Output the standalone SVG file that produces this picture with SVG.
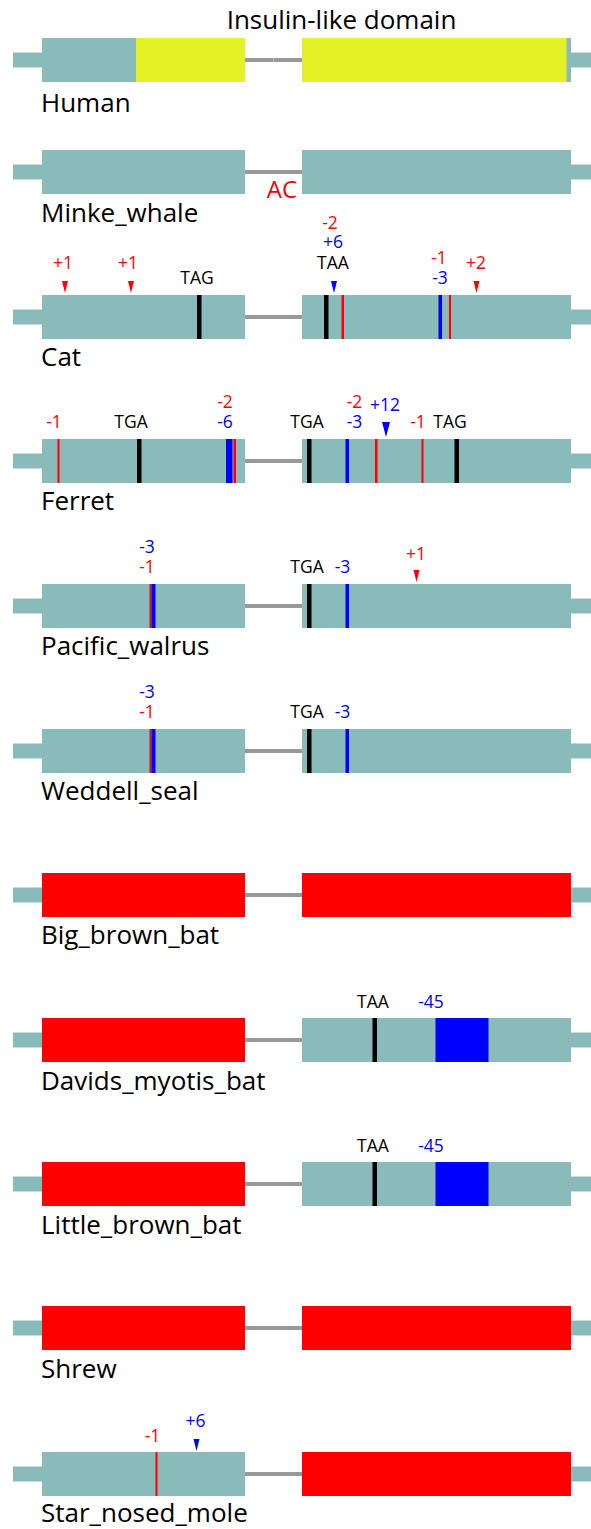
<svg xmlns="http://www.w3.org/2000/svg" width="591" height="1529" viewBox="0 0 591 1529">
  <style>
    .exon { fill: #89BBBB; }
    .dom { fill: #E4F126; }
    .lost { fill: #FF0000; }
    .stop { fill: #000000; }
    .fs { fill: #FF0000; }
    .del { fill: #0000FF; }
    .intron { stroke: #999999; stroke-width: 4; fill: none; }
    .name { font-family: "Open Sans", "Noto Sans", sans-serif; font-size: 26px; fill: #000000; }
    .ann { font-family: "Open Sans", "Noto Sans", sans-serif; font-size: 17.5px; text-anchor: middle; }
    .k { fill: #000000; }
    .r { fill: #FF0000; }
    .b { fill: #0000FF; }
  </style>
  <defs>
    <!-- gene model: UTR stubs on both ends, drawn with the exon box top at y=0 -->
    <g id="stubs">
      <rect class="exon" x="13" y="14.5" width="30" height="15"/>
      <rect class="exon" x="560" y="14.5" width="31" height="15"/>
    </g>
    <path id="tri" d="M-3,-14 L3,-14 L0,-2 Z"/>
    <path id="triBig" d="M-4,-17 L4,-17 L0,-2 Z"/>
  </defs>

  <!-- header -->
  <text class="name" x="341.5" y="29" text-anchor="middle">Insulin-like domain</text>

  <!-- intron connectors -->
  <g id="connectors">
    <line class="intron" x1="245" y1="60" x2="302" y2="60"/>
    <line x1="273.5" y1="58" x2="273.5" y2="62" stroke="#C8C8C8" stroke-width="0.8"/>
    <line class="intron" x1="245" y1="172" x2="302" y2="172"/>
    <line class="intron" x1="245" y1="317" x2="302" y2="317"/>
    <line class="intron" x1="245" y1="461" x2="302" y2="461"/>
    <line class="intron" x1="245" y1="606" x2="302" y2="606"/>
    <line class="intron" x1="245" y1="751" x2="302" y2="751"/>
    <line class="intron" x1="245" y1="895" x2="302" y2="895"/>
    <line class="intron" x1="245" y1="1040" x2="302" y2="1040"/>
    <line class="intron" x1="245" y1="1184" x2="302" y2="1184"/>
    <line class="intron" x1="245" y1="1328" x2="302" y2="1328"/>
    <line class="intron" x1="245" y1="1474" x2="302" y2="1474"/>
  </g>

  <!-- Human -->
  <g id="human" transform="translate(0,38)">
    <use href="#stubs"/>
    <rect class="exon" x="42" y="0" width="94" height="44"/>
    <rect class="dom" x="136" y="0" width="109" height="44"/>
    <rect class="exon" x="302" y="0" width="269" height="44"/>
    <rect class="dom" x="302" y="0" width="264.5" height="44"/>
    <text class="name" x="41" y="74">Human</text>
  </g>

  <!-- Minke whale -->
  <g id="minke_whale" transform="translate(0,150)">
    <use href="#stubs"/>
    <rect class="exon" x="42" y="0" width="203" height="44"/>
    <rect class="exon" x="302" y="0" width="269" height="44"/>
    <text class="name" x="282" y="47.5" text-anchor="middle" style="fill:#FF0000;font-size:24px">AC</text>
    <text class="name" x="41" y="72">Minke_whale</text>
  </g>

  <!-- Cat -->
  <g id="cat" transform="translate(0,295)">
    <use href="#stubs"/>
    <rect class="exon" x="42" y="0" width="203" height="44"/>
    <rect class="exon" x="302" y="0" width="269" height="44"/>
    <rect class="stop" x="197" y="0" width="4.5" height="44"/>
    <rect class="stop" x="324" y="0" width="4.5" height="44"/>
    <rect class="fs" x="341.5" y="0" width="2.5" height="44"/>
    <rect class="del" x="438.5" y="0" width="3.5" height="44"/>
    <rect class="fs" x="449" y="0" width="2" height="44"/>
    <use href="#tri" class="r" x="65" y="0"/>
    <use href="#tri" class="r" x="131" y="0"/>
    <use href="#tri" class="b" x="334" y="0"/>
    <use href="#tri" class="r" x="476.5" y="0"/>
    <text class="ann r" x="63" y="-26">+1</text>
    <text class="ann r" x="128" y="-26">+1</text>
    <text class="ann k" x="197" y="-11">TAG</text>
    <text class="ann r" x="330" y="-66">-2</text>
    <text class="ann b" x="333" y="-47">+6</text>
    <text class="ann k" x="333" y="-26">TAA</text>
    <text class="ann r" x="439" y="-31">-1</text>
    <text class="ann b" x="440" y="-11">-3</text>
    <text class="ann r" x="476" y="-26">+2</text>
    <text class="name" x="41" y="71">Cat</text>
  </g>

  <!-- Ferret -->
  <g id="ferret" transform="translate(0,439)">
    <use href="#stubs"/>
    <rect class="exon" x="42" y="0" width="203" height="44"/>
    <rect class="exon" x="302" y="0" width="269" height="44"/>
    <rect class="fs" x="57.5" y="0" width="2" height="44"/>
    <rect class="stop" x="137" y="0" width="4.5" height="44"/>
    <rect class="del" x="226" y="0" width="6.5" height="44"/>
    <rect class="fs" x="233.5" y="0" width="2.5" height="44"/>
    <rect class="stop" x="307" y="0" width="4.5" height="44"/>
    <rect class="del" x="345.5" y="0" width="3.5" height="44"/>
    <rect class="fs" x="375" y="0" width="2.5" height="44"/>
    <rect class="fs" x="421.5" y="0" width="2" height="44"/>
    <rect class="stop" x="454.5" y="0" width="4.5" height="44"/>
    <use href="#triBig" class="b" x="386" y="0"/>
    <text class="ann r" x="54" y="-11">-1</text>
    <text class="ann k" x="131" y="-11">TGA</text>
    <text class="ann r" x="225" y="-31">-2</text>
    <text class="ann b" x="225" y="-11">-6</text>
    <text class="ann k" x="307" y="-11">TGA</text>
    <text class="ann r" x="354.5" y="-31">-2</text>
    <text class="ann b" x="354.5" y="-11">-3</text>
    <text class="ann b" x="385" y="-28">+12</text>
    <text class="ann r" x="418" y="-11">-1</text>
    <text class="ann k" x="450" y="-11">TAG</text>
    <text class="name" x="41" y="71">Ferret</text>
  </g>

  <!-- Pacific walrus -->
  <g id="pacific_walrus" transform="translate(0,584)">
    <use href="#stubs"/>
    <rect class="exon" x="42" y="0" width="203" height="44"/>
    <rect class="exon" x="302" y="0" width="269" height="44"/>
    <rect class="fs" x="149.5" y="0" width="2" height="44"/>
    <rect class="del" x="151.5" y="0" width="4" height="44"/>
    <rect class="stop" x="307" y="0" width="4.5" height="44"/>
    <rect class="del" x="345.5" y="0" width="3.5" height="44"/>
    <use href="#tri" class="r" x="416.5" y="0"/>
    <text class="ann b" x="147" y="-31">-3</text>
    <text class="ann r" x="147" y="-11">-1</text>
    <text class="ann k" x="307" y="-11">TGA</text>
    <text class="ann b" x="342.5" y="-11">-3</text>
    <text class="ann r" x="416" y="-24">+1</text>
    <text class="name" x="41" y="71">Pacific_walrus</text>
  </g>

  <!-- Weddell seal -->
  <g id="weddell_seal" transform="translate(0,729)">
    <use href="#stubs"/>
    <rect class="exon" x="42" y="0" width="203" height="44"/>
    <rect class="exon" x="302" y="0" width="269" height="44"/>
    <rect class="fs" x="149.5" y="0" width="2" height="44"/>
    <rect class="del" x="151.5" y="0" width="4" height="44"/>
    <rect class="stop" x="307" y="0" width="4.5" height="44"/>
    <rect class="del" x="345.5" y="0" width="3.5" height="44"/>
    <text class="ann b" x="147" y="-31">-3</text>
    <text class="ann r" x="147" y="-11">-1</text>
    <text class="ann k" x="307" y="-11">TGA</text>
    <text class="ann b" x="342.5" y="-11">-3</text>
    <text class="name" x="41" y="71">Weddell_seal</text>
  </g>

  <!-- Big brown bat -->
  <g id="big_brown_bat" transform="translate(0,873)">
    <use href="#stubs"/>
    <rect class="lost" x="42" y="0" width="203" height="44"/>
    <rect class="lost" x="302" y="0" width="269" height="44"/>
    <text class="name" x="41" y="71">Big_brown_bat</text>
  </g>

  <!-- Davids myotis bat -->
  <g id="davids_myotis_bat" transform="translate(0,1018)">
    <use href="#stubs"/>
    <rect class="lost" x="42" y="0" width="203" height="44"/>
    <rect class="exon" x="302" y="0" width="269" height="44"/>
    <rect class="stop" x="372.5" y="0" width="4.5" height="44"/>
    <rect class="del" x="435.5" y="0" width="53" height="44"/>
    <text class="ann k" x="373" y="-10">TAA</text>
    <text class="ann b" x="431" y="-10">-45</text>
    <text class="name" x="41" y="72">Davids_myotis_bat</text>
  </g>

  <!-- Little brown bat -->
  <g id="little_brown_bat" transform="translate(0,1162)">
    <use href="#stubs"/>
    <rect class="lost" x="42" y="0" width="203" height="44"/>
    <rect class="exon" x="302" y="0" width="269" height="44"/>
    <rect class="stop" x="372.5" y="0" width="4.5" height="44"/>
    <rect class="del" x="435.5" y="0" width="53" height="44"/>
    <text class="ann k" x="373" y="-10">TAA</text>
    <text class="ann b" x="431" y="-10">-45</text>
    <text class="name" x="41" y="72">Little_brown_bat</text>
  </g>

  <!-- Shrew -->
  <g id="shrew" transform="translate(0,1306)">
    <use href="#stubs"/>
    <rect class="lost" x="42" y="0" width="203" height="44"/>
    <rect class="lost" x="302" y="0" width="269" height="44"/>
    <text class="name" x="41" y="72">Shrew</text>
  </g>

  <!-- Star-nosed mole -->
  <g id="star_nosed_mole" transform="translate(0,1452)">
    <use href="#stubs"/>
    <rect class="exon" x="42" y="0" width="203" height="44"/>
    <rect class="lost" x="302" y="0" width="269" height="44"/>
    <rect class="fs" x="155.5" y="0" width="2" height="44"/>
    <use href="#tri" class="b" x="196.5" y="1"/>
    <text class="ann r" x="152.5" y="-10">-1</text>
    <text class="ann b" x="195.5" y="-25.5">+6</text>
    <text class="name" x="41" y="70">Star_nosed_mole</text>
  </g>
</svg>
